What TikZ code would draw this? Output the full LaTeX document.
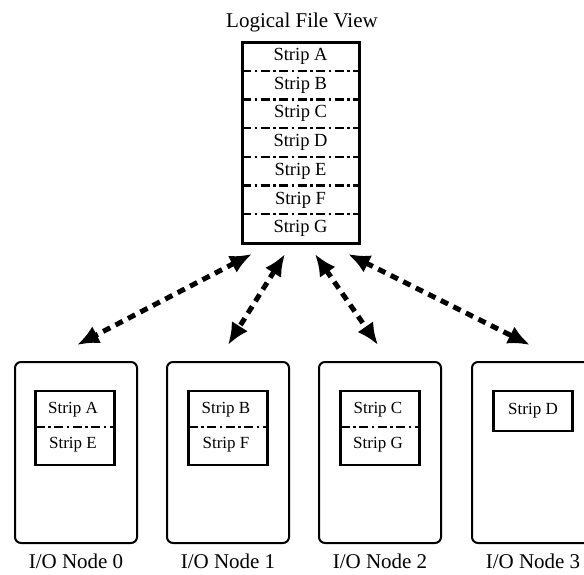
\documentclass[tikz,border=0pt]{standalone}
\usepackage{fontspec}
\setmainfont{Liberation Serif}
\usetikzlibrary{arrows.meta}
\tikzset{
  every node/.style={inner sep=0pt, outer sep=0pt},
  stripline/.style={line width=2.2pt, dash pattern=on 9pt off 3.5pt on 2.5pt off 3.5pt},
  iobox/.style={draw, line width=2pt, rounded corners=6pt, minimum width=122pt, minimum height=181pt},
  innerbox/.style={draw, line width=2.4pt, minimum width=79pt},
  bigtext/.style={font=\fontsize{21}{24}\selectfont},
  striptext/.style={font=\fontsize{18.5}{21}\selectfont},
  smalltext/.style={font=\fontsize{17}{20}\selectfont},
  link/.style={line width=5pt, dash pattern=on 8pt off 6pt,
    {Latex[length=22pt,width=19pt]}-{Latex[length=22pt,width=19pt]}}
}
\begin{document}
\begin{tikzpicture}[x=1pt,y=-1pt]
\useasboundingbox (0,0) rectangle (584,574);
% title
\node[bigtext, anchor=base] (title) at (302,27) {Logical File View};
% logical box
\node[draw, line width=3pt, minimum width=117pt, minimum height=201pt] (lfv) at (300.5,142.5) {};
\foreach \i in {1,...,6}{
  \draw[stripline] (242,{42+28.7*\i}) -- (359,{42+28.7*\i});
}
\foreach \t [count=\i from 0] in {A,B,C,D,E,F,G}{
  \node[striptext] (s\t) at (300.5,{42+28.7*\i+14.35}) {Strip \t};
}
% io nodes
\foreach \k/\x in {0/76,1/228,2/380,3/533}{
  \node[iobox] (io\k) at (\x,452.5) {};
  \node[bigtext, anchor=base] (lab\k) at (\x,568) {I/O Node \k};
}
% inner boxes
\foreach \k/\x/\a/\b in {0/75/A/E,1/228/B/F,2/380/C/G}{
  \node[innerbox, minimum height=74pt] (in\k) at (\x,428) {};
  \draw[stripline] ({\x-39.5},427) -- ({\x+39.5},427);
  \node[smalltext] (ia\k) at ({\x-2},410) {Strip \a};
  \node[smalltext] (ib\k) at ({\x-2},445) {Strip \b};
}
\node[innerbox, minimum height=40pt] (in3) at (533,411) {};
\node[smalltext] (ia3) at (533,411) {Strip D};
% connectors
\coordinate (t1) at (252,254); \coordinate (b1) at (77,345);
\coordinate (t2) at (285,254); \coordinate (b2) at (228,345);
\coordinate (t3) at (315,254); \coordinate (b3) at (378,345);
\coordinate (t4) at (348,254); \coordinate (b4) at (530,345);
\foreach \i in {1,2,3,4}{
  \draw[link] (t\i) -- (b\i);
}
\end{tikzpicture}
\end{document}
